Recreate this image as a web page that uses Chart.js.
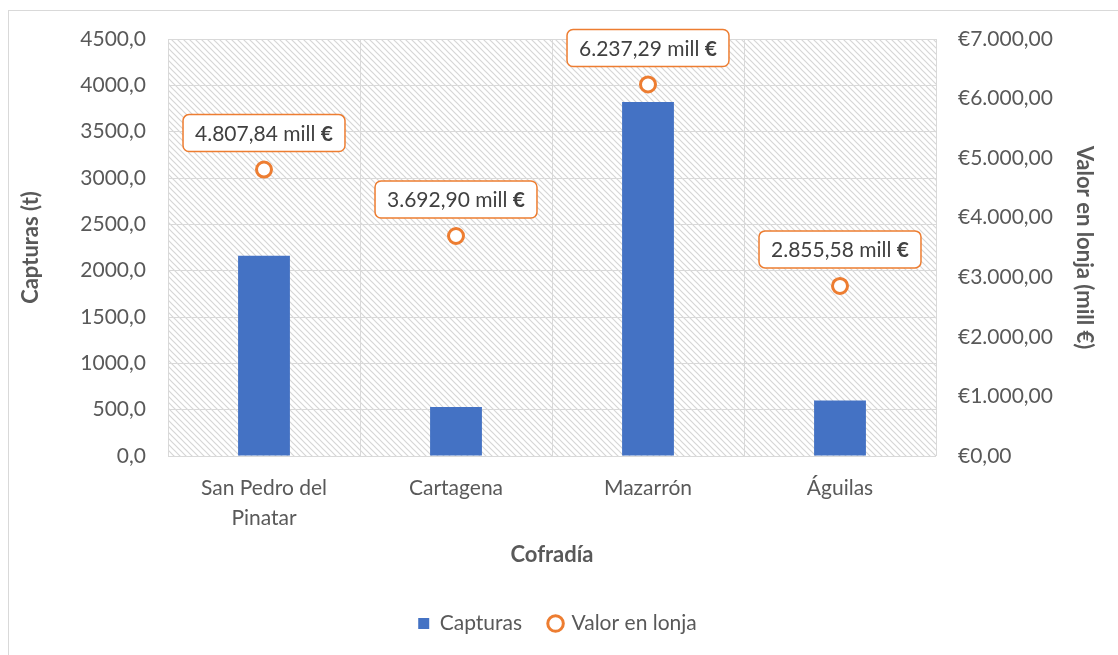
<!DOCTYPE html>
<html>
<head>
<meta charset="utf-8">
<script src="https://cdn.jsdelivr.net/npm/chart.js@4.4.1/dist/chart.umd.min.js"></script>
<style>
  html, body { margin: 0; padding: 0; background: #ffffff; }
  #wrap { position: relative; width: 1118px; height: 655px; }
</style>
</head>
<body>
<div id="wrap"><canvas id="chart"></canvas></div>
<script>
// datos
const cofradias = [['San Pedro del', 'Pinatar'], 'Cartagena', 'Mazarrón', 'Águilas'];
const capturas = [2160, 530, 3820, 600];
const valorLonja = [4807.84, 3692.90, 6237.29, 2855.58];

const FONT = 'Lato, "Open Sans", sans-serif';
const GRIS = '#595959';
const REJILLA = '#d9d9d9';
const AZUL = '#4472C4';
const NARANJA = '#ED7D31';

// formato español
function miles(entero) {
    return String(entero).replace(/\B(?=(\d{3})+(?!\d))/g, '.');
}
function euros(v) {
    const partes = v.toFixed(2).split('.');
    return miles(partes[0]) + ',' + partes[1];
}

// trama diagonal del área de trazado
function crearTrama() {
    const c = document.createElement('canvas');
    c.width = 6; c.height = 6;
    const g = c.getContext('2d');
    g.fillStyle = '#ffffff';
    g.fillRect(0, 0, 6, 6);
    g.strokeStyle = '#d6d6d6';
    g.lineWidth = 1.2;
    g.beginPath();
    g.moveTo(-1, -1); g.lineTo(7, 7);
    g.moveTo(-1, 5); g.lineTo(1, 7);
    g.moveTo(5, -1); g.lineTo(7, 1);
    g.stroke();
    return g.createPattern(c, 'repeat');
}

const fondoPlugin = {
    id: 'fondo',
    beforeDraw(chart) {
        const ctx = chart.ctx;
        const a = chart.chartArea;
        ctx.save();
        ctx.strokeStyle = REJILLA;
        ctx.lineWidth = 1;
        ctx.strokeRect(8.5, 10.5, 1300, 800);
        ctx.fillStyle = crearTrama();
        ctx.fillRect(a.left, a.top, a.right - a.left, a.bottom - a.top);
        ctx.restore();
    }
};

// etiquetas de valor con recuadro naranja
const etiquetasPlugin = {
    id: 'etiquetas',
    afterDatasetsDraw(chart) {
        const ctx = chart.ctx;
        const meta = chart.getDatasetMeta(1);
        ctx.save();
        meta.data.forEach((pt, i) => {
            const parte1 = euros(valorLonja[i]) + ' mill ';
            const parte2 = '€';
            ctx.font = '21px ' + FONT;
            const w1 = ctx.measureText(parte1).width;
            ctx.font = 'bold 21px ' + FONT;
            const w2 = ctx.measureText(parte2).width;
            const ancho = w1 + w2 + 24;
            const alto = 37;
            const x0 = pt.x - ancho / 2;
            const y0 = pt.y - 18 - alto;
            ctx.beginPath();
            ctx.roundRect(x0, y0, ancho, alto, 6);
            ctx.fillStyle = '#ffffff';
            ctx.fill();
            ctx.strokeStyle = NARANJA;
            ctx.lineWidth = 1.5;
            ctx.stroke();
            ctx.fillStyle = '#404040';
            ctx.textBaseline = 'middle';
            ctx.textAlign = 'left';
            ctx.font = '21px ' + FONT;
            ctx.fillText(parte1, x0 + 12, y0 + alto / 2 + 1);
            ctx.font = 'bold 21px ' + FONT;
            ctx.fillText(parte2, x0 + 12 + w1, y0 + alto / 2 + 1);
        });
        ctx.restore();
    }
};

new Chart(document.getElementById('chart'), {
    data: {
        labels: cofradias,
        datasets: [
            {
                type: 'bar',
                label: 'Capturas',
                data: capturas,
                backgroundColor: AZUL,
                yAxisID: 'y',
                barPercentage: 0.27,
                categoryPercentage: 1,
                pointStyle: 'rect',
                order: 2
            },
            {
                type: 'line',
                label: 'Valor en lonja',
                data: valorLonja,
                yAxisID: 'y2',
                showLine: false,
                pointStyle: 'circle',
                pointRadius: 7.5,
                pointBorderWidth: 3,
                pointBorderColor: NARANJA,
                pointBackgroundColor: '#ffffff',
                borderColor: NARANJA,
                borderWidth: 3,
                backgroundColor: '#ffffff',
                order: 1
            }
        ]
    },
    options: {
        responsive: true,
        maintainAspectRatio: false,
        animation: false,
        layout: { padding: { left: 18, right: 21, top: 39, bottom: 11 } },
        plugins: {
            legend: {
                position: 'bottom',
                labels: {
                    usePointStyle: true,
                    boxHeight: 11,
                    boxWidth: 11,
                    padding: 28,
                    color: GRIS,
                    font: { family: FONT, size: 21 },
                    sort: (a, b) => a.datasetIndex - b.datasetIndex
                }
            },
            tooltip: { enabled: false }
        },
        scales: {
            x: {
                offset: true,
                grid: { color: REJILLA, offset: true, drawTicks: false },
                border: { display: false },
                ticks: { color: GRIS, padding: 18, font: { family: FONT, size: 21, lineHeight: 1.4 } },
                title: {
                    display: true, text: 'Cofradía', color: GRIS,
                    font: { family: FONT, size: 22, weight: 'bold' },
                    padding: { top: 0, bottom: 17 }
                },
                afterFit(s) { s.height = 129; }
            },
            y: {
                position: 'left',
                min: 0, max: 4500,
                grid: { color: REJILLA, drawTicks: false },
                border: { display: false },
                ticks: {
                    stepSize: 500, padding: 22, color: GRIS,
                    font: { family: FONT, size: 21 },
                    callback: v => v.toFixed(1).replace('.', ',')
                },
                title: {
                    display: true, text: 'Capturas (t)', color: GRIS,
                    font: { family: FONT, size: 22, weight: 'bold' },
                    padding: { top: 0, bottom: 0 }
                },
                afterFit(s) { s.width = 150; }
            },
            y2: {
                position: 'right',
                min: 0, max: 7000,
                grid: { display: false, drawTicks: false },
                border: { display: false },
                ticks: {
                    stepSize: 1000, padding: 22, color: GRIS,
                    font: { family: FONT, size: 21 },
                    callback: v => '€' + euros(v)
                },
                title: {
                    display: true, text: 'Valor en lonja (mill €)', color: GRIS,
                    font: { family: FONT, size: 22, weight: 'bold' },
                    padding: { top: 0, bottom: 0 }
                },
                afterFit(s) { s.width = 161; }
            }
        }
    },
    plugins: [fondoPlugin, etiquetasPlugin]
});
</script>
</body>
</html>
